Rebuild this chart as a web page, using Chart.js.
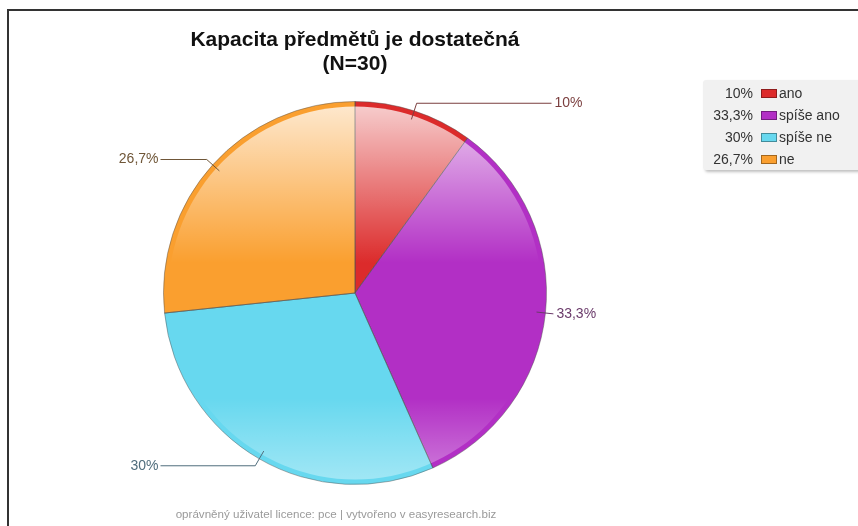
<!DOCTYPE html>
<html>
<head>
<meta charset="utf-8">
<script src="https://cdn.jsdelivr.net/npm/chart.js@4/dist/chart.umd.min.js"></script>
<style>
  body { margin: 0; background: #fff; font-family: "Liberation Sans", Arial, sans-serif; }
  #wrap { position: relative; width: 858px; height: 526px; overflow: hidden; }
  #frame { position: absolute; left: 7px; top: 9px; right: -10px; bottom: -10px;
           border-top: 2px solid #333; border-left: 2px solid #333; }
  #title { position: absolute; left: 155px; width: 400px; top: 27px; text-align: center;
           font-weight: bold; font-size: 21px; line-height: 24px; color: #111; }
  #footer { position: absolute; left: 136px; width: 400px; top: 507px; text-align: center;
            font-size: 11.6px; color: #9a9a9a; }
  #legend { position: absolute; left: 703px; top: 80px; width: 160px; height: 90px;
            background: #f1f1f1; border-radius: 3px; box-shadow: 2px 2px 3px rgba(0,0,0,0.25);
            font-size: 14px; color: #333; }
  .row { position: absolute; left: 0; width: 160px; height: 20px; line-height: 20px; white-space: nowrap; }
  .pct { position: absolute; right: 110px; width: 60px; text-align: right; }
  .sw { position: absolute; left: 58px; top: 6px; width: 14px; height: 7px; border: 1px solid rgba(0,0,0,0.35); }
  .lab { position: absolute; left: 76px; }
  canvas { position: absolute; left: 0; top: 0; }
</style>
</head>
<body>
<div id="wrap">
  <canvas id="pie" width="858" height="526"></canvas>
  <div id="frame"></div>
  <div id="title">Kapacita předmětů je dostatečná<br>(N=30)</div>
  <div id="legend"></div>
  <div id="footer">oprávněný uživatel licence: pce | vytvořeno v easyresearch.biz</div>
</div>
<script>
// data (N=30)
const categories = ['ano', 'spíše ano', 'spíše ne', 'ne'];
const counts = [3, 10, 9, 8];
const percentLabels = ['10%', '33,3%', '30%', '26,7%'];
const colors = ['#dc2b2b', '#b22fc5', '#67d8ef', '#fa9f2f'];
const labelColors = ['#7b3f3f', '#6b3b6b', '#4f6d7c', '#6f5638'];

// html legend
const legend = document.getElementById('legend');
categories.forEach(function (c, i) {
  const row = document.createElement('div');
  row.className = 'row';
  row.style.top = (3 + i * 22) + 'px';
  row.innerHTML = '<span class="pct">' + percentLabels[i] + '</span>' +
    '<span class="sw" style="background:' + colors[i] + '"></span>' +
    '<span class="lab">' + c + '</span>';
  legend.appendChild(row);
});

// glossy highlight inside the rim
const glossPlugin = {
  id: 'gloss',
  afterDatasetsDraw(chart) {
    const arcs = chart.getDatasetMeta(0).data;
    if (!arcs.length) return;
    const cx = arcs[0].x, cy = arcs[0].y, r = arcs[0].outerRadius;
    const ctx = chart.ctx;
    ctx.save();
    ctx.beginPath();
    ctx.arc(cx, cy, r - 5, 0, Math.PI * 2);
    ctx.clip();
    let g = ctx.createLinearGradient(0, cy - r, 0, cy - 30);
    g.addColorStop(0, 'rgba(255,255,255,0.78)');
    g.addColorStop(0.55, 'rgba(255,255,255,0.35)');
    g.addColorStop(1, 'rgba(255,255,255,0)');
    ctx.fillStyle = g;
    ctx.fillRect(cx - r, cy - r, 2 * r, r);
    g = ctx.createLinearGradient(0, cy + r * 0.55, 0, cy + r);
    g.addColorStop(0, 'rgba(255,255,255,0)');
    g.addColorStop(1, 'rgba(255,255,255,0.4)');
    ctx.fillStyle = g;
    ctx.fillRect(cx - r, cy + r * 0.55, 2 * r, r * 0.45);
    ctx.restore();
    // redraw slice separators over the gloss
    ctx.save();
    ctx.strokeStyle = 'rgba(80,80,80,0.45)';
    ctx.lineWidth = 1;
    arcs.forEach(function (a) {
      ctx.beginPath();
      ctx.moveTo(cx, cy);
      ctx.lineTo(cx + r * Math.cos(a.startAngle), cy + r * Math.sin(a.startAngle));
      ctx.stroke();
    });
    ctx.restore();
  }
};

// outside labels with leader lines
const leaderPlugin = {
  id: 'leaders',
  afterDraw(chart) {
    const arcs = chart.getDatasetMeta(0).data;
    const ctx = chart.ctx;
    ctx.save();
    ctx.font = '14px "Liberation Sans", Arial, sans-serif';
    ctx.textBaseline = 'middle';
    arcs.forEach(function (a, i) {
      const cx = a.x, cy = a.y, r = a.outerRadius;
      const mid = (a.startAngle + a.endAngle) / 2;
      const cs = Math.cos(mid), sn = Math.sin(mid);
      const sx = cx + (r - 9) * cs, sy = cy + (r - 9) * sn;
      const ex = cx + (r + 8) * cs, ey = cy + (r + 8) * sn;
      const right = cs > 0;
      const hx = right ? Math.max(cx + r + 5, ex) : Math.min(cx - r - 3, ex);
      ctx.strokeStyle = labelColors[i];
      ctx.lineWidth = 1;
      ctx.beginPath();
      ctx.moveTo(sx, sy);
      ctx.lineTo(ex, ey);
      ctx.lineTo(hx, ey);
      ctx.stroke();
      ctx.fillStyle = labelColors[i];
      ctx.textAlign = right ? 'left' : 'right';
      ctx.fillText(percentLabels[i], right ? hx + 3 : hx - 2, ey);
    });
    ctx.restore();
  }
};

new Chart(document.getElementById('pie'), {
  type: 'pie',
  data: {
    labels: categories,
    datasets: [{
      data: counts,
      backgroundColor: colors,
      borderColor: 'rgba(80,80,80,0.45)',
      borderWidth: 1
    }]
  },
  options: {
    responsive: false,
    animation: false,
    layout: { padding: { left: 163, right: 311, top: 101, bottom: 41 } },
    plugins: {
      legend: { display: false },
      tooltip: { enabled: false }
    }
  },
  plugins: [glossPlugin, leaderPlugin]
});
</script>
</body>
</html>
